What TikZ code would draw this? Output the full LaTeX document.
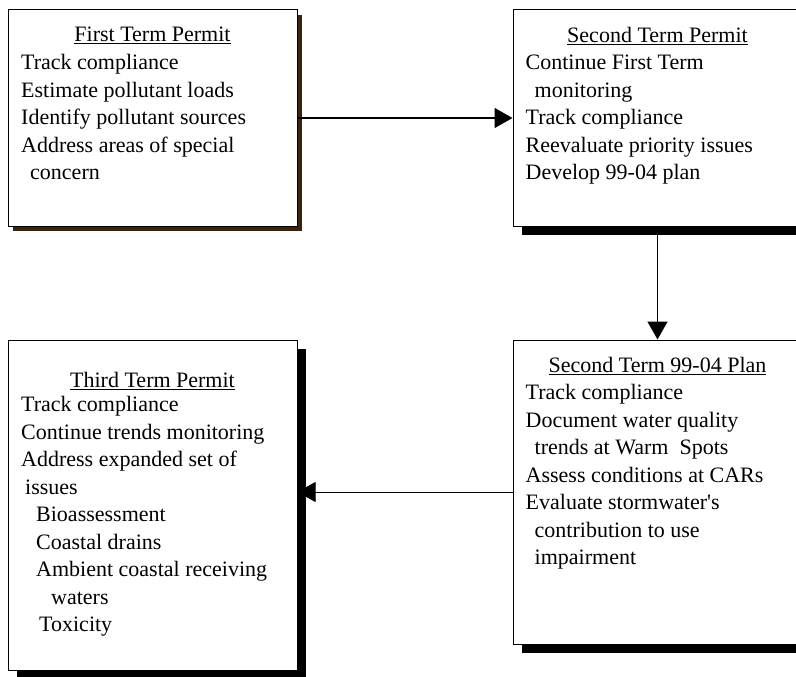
\documentclass[tikz,border=0pt]{standalone}
\usepackage{fontspec}
\setmainfont{Liberation Serif}
\usetikzlibrary{arrows.meta,shadows,backgrounds}
\definecolor{shadowbrown}{HTML}{3A2410}
\tikzset{
  permit/.style={draw,line width=1pt,fill=white,rectangle,inner sep=0pt,
    minimum width=289pt},
  darkshadow/.style={drop shadow={shadow xshift=9pt,shadow yshift=-9pt,fill=black,opacity=1}},
  brownshadow/.style={drop shadow={shadow xshift=5pt,shadow yshift=-5pt,fill=shadowbrown,opacity=1}},
  heading/.style={inner sep=0pt,anchor=base,font=\fontsize{22}{26}\selectfont},
  items/.style={align=left,inner sep=0pt,anchor=base west,font=\fontsize{22}{27.5}\selectfont},
  flow/.style={line width=1.5pt,-{Triangle[length=18pt,width=20pt]}}
}

\begin{document}
\begin{tikzpicture}[x=1pt,y=-1pt]
%  \draw[gray] (0,0) rectangle (796,677);
  \path[use as bounding box] (0,0) rectangle (796,677);
  \node[permit,brownshadow,minimum height=216pt] (first)  at (152.5,118) {};
  \node[permit,darkshadow, minimum height=216pt] (second) at (657.5,118) {};
  \node[permit,darkshadow, minimum height=304pt] (plan)   at (657.5,492) {};
  \node[permit,darkshadow, minimum height=330pt] (third)  at (152.5,505) {};
  \draw[flow] (first.east) -- (second.west);
  \draw[flow] (second.south) -- (plan.north);
  \begin{scope}[on background layer]
   \draw[flow,line width=1pt] (plan.west) -- (plan.west -| third.east);
  \end{scope}
  \node[heading] (firsthead)  at ([yshift=-32pt]first.north)  {\underline{First Term Permit}};
  \node[heading] (secondhead) at ([yshift=-33pt]second.north) {\underline{Second Term Permit}};
  \node[heading] (planhead)   at ([yshift=-33pt]plan.north)   {\underline{Second Term 99-04 Plan}};
  \node[heading] (thirdhead)  at ([yshift=-48pt]third.north)  {\underline{Third Term Permit}};
  % base of each list = baseline of its last line
  \node[items] (firstitems) at ([xshift=13.5pt,yshift=-170pt]first.north west)
   {Track compliance\\
    Estimate pollutant loads\\
    Identify pollutant sources\\
    Address areas of special\\
    \hspace*{9pt}concern};
  \node[items] (seconditems) at ([xshift=13pt,yshift=-170pt]second.north west)
   {Continue First Term\\
    \hspace*{9pt}monitoring\\
    Track compliance\\
    Reevaluate priority issues\\
    Develop 99-04 plan};
  \node[items] (planitems) at ([xshift=13pt,yshift=-225pt]plan.north west)
   {Track compliance\\
    Document water quality\\
    \hspace*{9pt}trends at Warm~ Spots\\
    Assess conditions at CARs\\
    Evaluate stormwater\textquotesingle s\\
    \hspace*{9pt}contribution to use\\
    \hspace*{9pt}impairment};
  \node[items] (thirditems) at ([xshift=13.5pt,yshift=-292pt]third.north west)
   {Track compliance\\
    Continue trends monitoring\\
    Address expanded set of\\
    \hspace*{4pt}issues\\
    \hspace*{15pt}Bioassessment\\
    \hspace*{15pt}Coastal drains\\
    \hspace*{15pt}Ambient coastal receiving\\
    \hspace*{30pt}waters\\
    \hspace*{18pt}Toxicity};
\end{tikzpicture}
\end{document}
